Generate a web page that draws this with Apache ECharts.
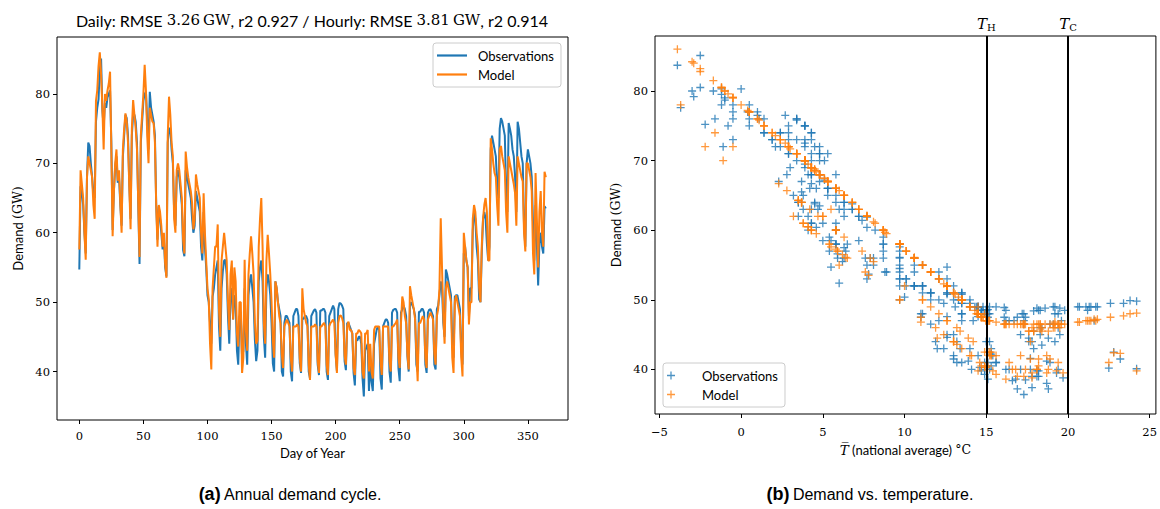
<!DOCTYPE html>
<html>
<head>
<meta charset="utf-8">
<script src="https://cdn.jsdelivr.net/npm/echarts@6/dist/echarts.min.js"></script>
<style>
  html, body { margin: 0; padding: 0; background: #fff; }
  #chart { width: 1160px; height: 509px; }
</style>
</head>
<body>
<div id="chart"></div>
<script>
// One row per week: Tue, Wed, Thu, Fri, Sat, Sun, Mon (day 0 = Tuesday 1 January)

// Daily national-average temperature (°C)
const temperature = [
  5.5, 4.3, 5.3, 6.3, 5.8, 6.4, 4.8,
  3.4, 3.9, 4.3, 4.8, 3.7, 3.2, -0.5,
  -1.2, -2.9, -3.9, -2.5, -3.7, -2.2, -1.0,
  -0.5, -1.2, -1.7, -2.5, -0.5, 4.6, 5.8,
  3.9, 2.9, 5.1, 4.3, 3.5, 4.3, 2.9,
  1.4, 0.4, 1.0, 2.4, 2.3, 4.1, 1.4,
  -0.5, 0.5, 1.4, 2.9, 3.5, 6.2, 1.9,
  0.5, -1.0, -3.0, -1.2, -1.6, -1.1, 0.0,
  0.5, 1.0, 1.1, 2.4, 3.7, 5.4, 6.8,
  7.2, 8.2, 9.7, 8.7, 8.1, 7.8, 1.9,
  -0.8, 0.5, 2.4, 3.4, 4.7, 4.3, 4.3,
  3.9, 4.3, 5.3, 6.3, 6.3, 5.9, 3.0,
  4.1, 4.8, 5.3, 5.8, 3.5, 4.1, 5.0,
  4.6, 5.3, 5.8, 6.3, 5.8, 5.9, 6.0,
  8.7, 10.6, 12.6, 13.3, 14.2, 15.0, 12.6,
  11.1, 9.7, 9.7, 8.1, 11.6, 12.4, 10.6,
  9.7, 8.7, 9.7, 10.6, 11.1, 11.9, 11.6,
  10.6, 11.0, 11.1, 12.1, 13.4, 13.2, 13.5,
  13.5, 14.5, 14.0, 10.6, 13.2, 13.5, 11.6,
  10.1, 8.9, 10.1, 11.6, 12.6, 13.0, 12.0,
  9.7, 7.7, 6.3, 9.7, 12.6, 13.0, 10.6,
  8.8, 10.1, 11.6, 13.5, 13.9, 14.1, 12.1,
  12.6, 13.5, 14.5, 15.0, 15.2, 14.9, 16.4,
  15.2, 14.7, 15.1, 16.2, 17.1, 16.8, 17.3,
  18.2, 19.1, 20.6, 19.4, 18.7, 18.1, 12.6,
  14.5, 14.9, 15.1, 16.1, 16.4, 17.8, 17.2,
  17.9, 18.6, 19.2, 18.3, 18.9, 19.3, 18.1,
  19.5, 20.7, 21.3, 19.8, 19.4, 19.7, 19.2,
  21.2, 21.8, 22.6, 21.4, 22.8, 24.2, 21.1,
  23.8, 24.2, 23.4, 21.7, 23.2, 22.5, 19.6,
  21.6, 19.1, 18.4, 17.9, 18.2, 18.7, 17.6,
  18.8, 19.5, 18.3, 17.6, 18.1, 17.3, 17.9,
  18.4, 19.2, 18.8, 17.7, 17.4, 16.9, 17.8,
  17.1, 18.3, 18.9, 19.4, 18.2, 17.8, 17.3,
  16.7, 17.4, 16.9, 17.3, 17.7, 16.6, 16.2,
  16.1, 15.6, 15.2, 14.8, 15.3, 15.1, 15.0,
  13.1, 13.5, 14.5, 15.0, 15.3, 14.9, 12.4,
  13.0, 13.5, 14.0, 14.7, 15.1, 16.2, 15.0,
  15.1, 14.8, 14.5, 14.7, 15.6, 14.7, 14.7,
  14.5, 14.3, 14.5, 14.7, 14.9, 14.6, 14.4,
  14.0, 12.6, 7.7, 11.1, 12.1, 13.0, 12.6,
  12.1, 12.6, 13.0, 13.5, 15.2, 15.4, 13.5,
  13.0, 13.5, 14.0, 14.5, 15.3, 15.6, 8.7,
  9.7, 10.6, 11.1, 11.0, 11.1, 9.7, 7.7,
  6.8, 7.2, 8.7, 9.7, 10.0, 9.7, 9.7,
  7.7, 6.8, 6.3, 7.2, 7.9, 6.5, 2.1,
  2.9, 3.9, 4.5, 4.8, 3.7, 3.8, 2.9,
  2.7, 3.4, 3.9, 4.3, 4.2, 4.3, 3.4,
  3.9, 4.3, 4.8, 5.3, 2.8, 3.8, 3.4,
  3.9, 4.3, 4.8, 5.1, 5.8, 5.8, 3.9,
  3.9, 4.3, 4.8, 5.8, 7.4, 7.6, 4.5,
  5.0, 6.0, 5.5, 5.8, 5.8, 5.4, 4.5,
  4.8
];

// Observed daily mean demand (GW)
const demandObserved = [
  54.7, 66.7, 66, 64, 60, 57, 68,
  73, 72.5, 70, 68, 65.5, 65, 76,
  78, 79.2, 83.7, 85.1, 77.6, 75.2, 78.7,
  78, 79.5, 80, 80.5, 73, 60.4, 66,
  69.5, 71, 67.2, 68, 64, 61, 71,
  74, 77, 76.5, 74, 67, 62, 74,
  77, 77, 76, 73, 64, 55.5, 73,
  76, 79, 80, 80.3, 76, 72, 80.3,
  78, 77, 76, 74, 64, 59, 63.8,
  62, 60, 57.6, 59, 55, 53.7, 73,
  75, 75, 72, 70, 63, 61, 68,
  69, 68, 66, 64, 57.5, 56.6, 69,
  68, 67, 66, 65, 62, 60, 61,
  66, 65, 64, 63, 58, 56, 63,
  58, 55, 51, 50, 47, 44, 50.8,
  52, 54, 55, 56, 46.5, 43, 52,
  54.5, 56, 56.1, 54, 48, 44, 51,
  52, 47.5, 51, 50, 43, 41, 48,
  48, 42, 43, 52, 44, 41, 51,
  53, 54, 52, 50, 44.6, 41.5, 43,
  53, 55, 56, 53, 45, 42, 52,
  54, 53, 51, 47, 41.2, 40, 53,
  52, 50, 49, 48, 40, 39.3, 47,
  48, 48, 47.5, 47, 40, 38.6, 48,
  48.5, 49, 49, 48, 41.2, 39.8, 47.6,
  47.6, 48, 48, 47.5, 40, 39, 48,
  48.4, 48.8, 49, 48.5, 41, 39.5, 48.8,
  48.8, 49, 49, 48.5, 40, 38.8, 48,
  48.5, 49, 49.5, 49, 42.5, 40.1, 49,
  49.9, 49.8, 49.5, 49, 41.5, 40.2, 47,
  47, 46.5, 46, 45.5, 39.8, 38, 44.5,
  44.5, 45, 45, 44, 39, 36.4, 43,
  43.5, 44, 37.2, 41.6, 38.5, 37.2, 44,
  45, 46, 46.5, 46, 39, 37.4, 46.5,
  47, 47.5, 47.5, 47, 40, 38.4, 48.5,
  48.9, 49, 49, 48.5, 40.5, 38.6, 48.5,
  49, 49.5, 49, 48, 42.2, 40, 49.5,
  50, 49.5, 49, 48, 41, 40, 48.6,
  48.6, 49, 49, 48.5, 41, 39.8, 48.5,
  48.9, 49, 48.5, 48, 41, 40.3, 49,
  49.5, 51, 53, 52, 47, 45, 54.7,
  54, 53, 52, 51, 44, 42, 50.8,
  51, 51, 50, 49, 43, 41, 57,
  58, 56, 55, 48, 52, 52, 60.4,
  63, 62, 58, 56, 50.4, 50, 57,
  61.9, 63, 62, 58.5, 56, 58, 72,
  74, 73, 72, 71, 67, 65, 75,
  76.5, 76, 75, 74, 66, 63, 75.8,
  75, 74, 72, 71, 68, 63, 76,
  75, 73, 71, 70, 61, 58, 70,
  72, 71, 70, 68, 61.4, 56, 64,
  58.5, 52.4, 58.5, 60, 58, 57, 63.8,
  63.5
];

// Modelled daily mean demand (GW)
const demandModel = [
  57.6, 69, 67, 65, 60, 56.1, 68,
  71, 70, 69, 68, 64, 62, 79,
  80.5, 84, 86, 82.8, 78, 72, 80,
  79, 80.5, 81.5, 83.2, 72, 59.5, 66,
  70, 72, 67.5, 69, 64.3, 60, 72,
  75, 77.2, 76, 73, 66.7, 60.5, 75,
  79.1, 77, 75, 72, 64.3, 56.5, 74,
  77, 80, 84.2, 80.5, 74, 70, 78,
  77, 76, 75.8, 73, 64, 58, 64,
  63, 61, 58, 60, 55.5, 53.5, 74,
  79.6, 77, 73, 71, 62, 60, 69,
  70, 69, 67, 65, 59, 57, 71.7,
  69.5, 68, 67, 66, 64.3, 60.5, 62,
  68.4, 67, 66, 65, 60, 57, 65.7,
  60, 56, 52, 50.4, 44, 40.3, 52,
  55, 58, 58, 61.2, 49, 45, 56,
  58, 60, 58, 56, 50, 46, 54,
  56, 47.5, 55, 53, 45.5, 43.6, 50,
  50, 39.8, 42, 56.1, 46, 43, 54,
  57, 59.5, 57, 54, 47, 44, 44.5,
  58, 62, 65, 58, 47, 44, 56,
  59.7, 57, 54, 50, 44.5, 42, 53,
  52, 50, 48, 47, 42.5, 40.5, 46.5,
  47, 47.5, 47, 46.5, 42, 40, 46.5,
  46.5, 46.5, 46.8, 46.5, 42, 40, 52,
  49, 48, 47, 46.5, 41, 38.8, 46.5,
  46.5, 46.5, 46.8, 46.5, 41.5, 39.8, 46.5,
  46.5, 46.8, 47, 46.5, 41, 39.5, 46.5,
  47, 47.2, 47.5, 47, 42.4, 39.8, 47,
  48, 48.1, 47.7, 47, 42.3, 41, 46.5,
  47.2, 46, 46, 45.5, 40.5, 39.5, 45.5,
  45.5, 46, 45.8, 45.5, 40, 39, 45.5,
  45.5, 46, 40, 44, 40, 39, 46,
  46.5, 46.5, 46.5, 46.5, 41.5, 39.5, 46.5,
  46.5, 46.5, 46.5, 46.5, 41.5, 40, 46.5,
  46.5, 46.8, 47, 47.5, 42, 40.5, 47,
  50.8, 50, 48, 47, 42.5, 40.3, 52.3,
  51, 50, 49, 47.5, 42.5, 38.6, 47,
  47, 47.5, 48, 47.5, 42, 40.5, 47.5,
  48, 48.5, 48, 47.5, 42.5, 41, 48,
  49, 52, 62.1, 55, 48, 44, 52,
  53, 52, 51, 50, 42, 39.8, 50,
  51, 50, 49, 48, 42, 39.3, 60,
  58, 56, 55, 46.8, 50, 50, 62,
  64, 63, 60, 58, 52, 50, 58,
  62, 64, 65, 63, 56, 56, 73.6,
  72, 70, 68.6, 68, 64, 61, 72,
  72.5, 71, 70, 69, 63, 60, 71,
  70, 69, 68, 67, 65.7, 61, 71,
  70, 69, 68, 67.4, 60, 57.3, 70,
  70, 69, 68, 66, 57, 54, 68.6,
  62, 55, 63, 66, 60, 58, 68.8,
  68
];

const dayTicks = [0, 50, 100, 150, 200, 250, 300, 350];
const demandTicks = [40, 50, 60, 70, 80];
const temperatureTicks = [-5, 0, 5, 10, 15, 20, 25];
// Heating / cooling threshold temperatures (°C)
const thresholds = [
  { label: 'H', value: 15 },
  { label: 'C', value: 20 }
];

const BLUE = '#1f77b4';
const ORANGE = '#ff7f0e';
const SANS = 'Lato';
const SERIF = 'DejaVu Serif';
const CAPTION = 'Liberation Sans';
const PLUS = 'path://M4.2,0H5.8V4.2H10V5.8H5.8V10H4.2V5.8H0V4.2H4.2Z';
const LINE_ICON = 'path://M0,0H30V2.2H0Z';

const minus = v => (v < 0 ? '\u2212' + Math.abs(v) : String(v));

const tickLabel = { fontFamily: SERIF, fontSize: 11.5, color: '#000' };
const tick = { show: true, length: 4, lineStyle: { color: '#000', width: 1 } };

function valueAxis(gridIndex, min, max, ticks, labelMargin, extra) {
  return Object.assign({
    type: 'value', gridIndex, min, max,
    axisLine: { show: false, onZero: false },
    splitLine: { show: false },
    axisTick: Object.assign({ customValues: ticks }, tick),
    axisLabel: Object.assign({ customValues: ticks, formatter: minus, margin: labelMargin }, tickLabel)
  }, extra || {});
}

const nameRich = {
  s: { fontFamily: SANS, fontSize: 13, color: '#000' },
  m: { fontFamily: SERIF, fontSize: 12.5, color: '#000' },
  it: { fontFamily: SERIF, fontSize: 13.5, fontStyle: 'italic', color: '#000' }
};

const legendBox = {
  orient: 'vertical', itemWidth: 30, itemGap: 0,
  backgroundColor: '#fff', borderColor: '#cccccc', borderWidth: 1, borderRadius: 3,
  selectedMode: false
};

const chart = echarts.init(document.getElementById('chart'), null, { renderer: 'svg' });

chart.setOption({
  animation: false,
  backgroundColor: '#fff',
  grid: [
    { left: 57, top: 37, width: 511, height: 383, show: true, borderColor: '#000', borderWidth: 1, backgroundColor: 'transparent' },
    { left: 655, top: 36, width: 503, height: 378, show: true, borderColor: '#000', borderWidth: 1, backgroundColor: 'transparent' }
  ],
  xAxis: [
    valueAxis(0, -17.4, 381.3, dayTicks, 10, {
      name: 'Day of Year', nameLocation: 'middle', nameGap: 24,
      nameTextStyle: { fontFamily: SANS, fontSize: 13, color: '#000' }
    }),
    valueAxis(1, -5.27, 25.38, temperatureTicks, 12, {
      name: '{it|T\u0305} {s|(national average)} {m|°C}', nameLocation: 'middle', nameGap: 28,
      nameTextStyle: { rich: nameRich }
    })
  ],
  yAxis: [
    valueAxis(0, 33.02, 88.2, demandTicks, 7, {
      name: '{s|Demand }{m|(GW)}', nameLocation: 'middle', nameGap: 33, nameRotate: 90,
      nameTextStyle: { rich: nameRich }
    }),
    valueAxis(1, 33.6, 87.9, demandTicks, 7, {
      name: '{s|Demand }{m|(GW)}', nameLocation: 'middle', nameGap: 33, nameRotate: 90,
      nameTextStyle: { rich: nameRich }
    })
  ],
  legend: [
    Object.assign({}, legendBox, {
      data: [
        { name: 'Observations', icon: LINE_ICON },
        { name: 'Model', icon: LINE_ICON }
      ],
      left: 433, top: 43, itemHeight: 14,
      padding: [3, 7, 3, 4],
      textStyle: { fontFamily: SANS, fontSize: 13, color: '#000', lineHeight: 19, padding: [0, 0, 0, 6] }
    }),
    Object.assign({}, legendBox, {
      data: ['Observations ', 'Model '],
      formatter: n => n.trim(),
      left: 663, top: 363, itemHeight: 8,
      padding: [3, 7, 3, 4],
      textStyle: { fontFamily: SANS, fontSize: 13, color: '#000', lineHeight: 19, padding: [0, 0, 0, 11] }
    })
  ],
  series: [
    {
      name: 'Observations', type: 'line', xAxisIndex: 0, yAxisIndex: 0,
      data: demandObserved.map((v, day) => [day, v]),
      symbol: 'none', color: BLUE, lineStyle: { width: 2, color: BLUE }, z: 2
    },
    {
      name: 'Model', type: 'line', xAxisIndex: 0, yAxisIndex: 0,
      data: demandModel.map((v, day) => [day, v]),
      symbol: 'none', color: ORANGE, lineStyle: { width: 2, color: ORANGE }, z: 3
    },
    {
      name: 'Observations ', type: 'scatter', xAxisIndex: 1, yAxisIndex: 1,
      data: temperature.map((t, day) => [t, demandObserved[day]]),
      symbol: PLUS, symbolSize: 8, color: BLUE, itemStyle: { color: BLUE }, z: 2
    },
    {
      name: 'Model ', type: 'scatter', xAxisIndex: 1, yAxisIndex: 1,
      data: temperature.map((t, day) => [t, demandModel[day]]),
      symbol: PLUS, symbolSize: 8, color: ORANGE, itemStyle: { color: ORANGE }, z: 3,
      markLine: {
        silent: true, symbol: 'none', z: 5,
        lineStyle: { color: '#000', width: 2, type: 'solid' },
        label: {
          show: true, position: 'end', distance: 4,
          formatter: p => '{i|T}{s|' + p.name + '}',
          rich: {
            i: { fontFamily: SERIF, fontStyle: 'italic', fontSize: 15, color: '#000' },
            s: { fontFamily: SERIF, fontSize: 10, color: '#000', verticalAlign: 'bottom', padding: [7, 0, 0, 0] }
          }
        },
        data: thresholds.map(t => ({ name: t.label, xAxis: t.value }))
      }
    }
  ],
  graphic: [
    {
      type: 'text', x: 312, y: 20,
      style: {
        align: 'center', verticalAlign: 'middle',
        text: '{s|Daily: RMSE }{m|3.26\u2009GW}{s|, r2 0.927 / Hourly: RMSE }{m|3.81\u2009GW}{s|, r2 0.914}',
        rich: {
          s: { fontFamily: SANS, fontSize: 16, fill: '#000' },
          m: { fontFamily: SERIF, fontSize: 15, fill: '#000' }
        }
      }
    },
    {
      type: 'text', x: 290, y: 494,
      style: {
        align: 'center', verticalAlign: 'middle',
        text: '{b|(a)} {n|Annual demand cycle.}',
        rich: {
          b: { fontFamily: CAPTION, fontWeight: 'bold', fontSize: 18, fill: '#000' },
          n: { fontFamily: CAPTION, fontSize: 16, fill: '#000' }
        }
      }
    },
    {
      type: 'text', x: 870, y: 494,
      style: {
        align: 'center', verticalAlign: 'middle',
        text: '{b|(b)} {n|Demand vs. temperature.}',
        rich: {
          b: { fontFamily: CAPTION, fontWeight: 'bold', fontSize: 18, fill: '#000' },
          n: { fontFamily: CAPTION, fontSize: 16, fill: '#000' }
        }
      }
    }
  ]
});
</script>
</body>
</html>
